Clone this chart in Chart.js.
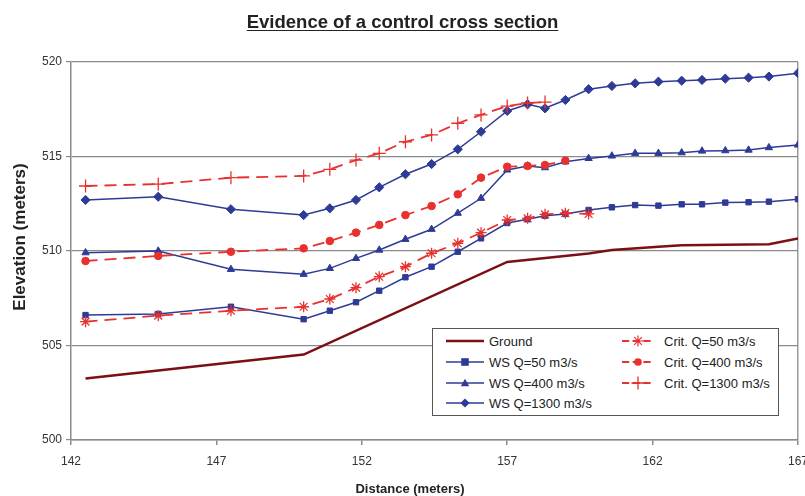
<!DOCTYPE html>
<html>
<head>
<meta charset="utf-8">
<script src="https://cdn.jsdelivr.net/npm/chart.js@4.4.1/dist/chart.umd.min.js"></script>
<style>
  html, body { margin: 0; padding: 0; background: #fff; overflow: hidden; }
  #wrap { position: relative; width: 820px; height: 496px; }
  #titulo {
    position: absolute; left: 0; width: 805px; top: 11px; text-align: center;
    font: bold 18.5px "Liberation Sans", Arial, sans-serif; color: #222;
    text-decoration: underline; text-underline-offset: 2px;
  }
  .eje { position: absolute; text-align: center; font-family: "Liberation Sans", Arial, sans-serif; font-weight: bold; color: #222; white-space: nowrap; }
  #ejeX { left: 310px; width: 200px; top: 480px; height: 18px; line-height: 18px; font-size: 13px; }
  #ejeY { left: -80px; width: 200px; top: 227px; height: 20px; line-height: 20px; font-size: 17px; transform: rotate(-90deg); }
  #leyenda {
    position: absolute; left: 432px; top: 328px; width: 347px; height: 88px;
    border: 1px solid #555; background: #fff; box-sizing: border-box;
    font: 13px "Liberation Sans", Arial, sans-serif; color: #222;
  }
  .item { position: absolute; height: 20px; display: flex; align-items: center; white-space: nowrap; }
  .item svg { margin-right: 5px; }
</style>
</head>
<body>
<div id="wrap">
  <canvas id="grafico"></canvas>
  <div id="titulo">Evidence of a control cross section</div>
  <div class="eje" id="ejeX">Distance (meters)</div>
  <div class="eje" id="ejeY">Elevation (meters)</div>
  <div id="leyenda"></div>
</div>
<script>
// Distancias (m) de las secciones con perfil de agua
const stations = [142.5, 145, 147.5, 150, 150.9, 151.8, 152.6, 153.5, 154.4, 155.3, 156.1, 157,
                  157.7, 158.3, 159, 159.8, 160.6, 161.4, 162.2, 163, 163.7, 164.5, 165.3, 166, 167];

// Terreno
const groundStations = [142.5, 150, 157, 159.8, 160.6, 162.2, 163, 166, 167];
const ground = [503.25, 504.52, 509.42, 509.87, 510.05, 510.22, 510.3, 510.36, 510.66];

// Superficie de agua
const ws50 = [506.61, 506.67, 507.05, 506.39, 506.84, 507.29, 507.90, 508.61, 509.17, 509.96, 510.67, 511.48,
              511.68, 511.87, 511.96, 512.17, 512.31, 512.43, 512.40, 512.47, 512.47, 512.56, 512.58, 512.61, 512.74];
const ws400 = [509.91, 510.00, 509.03, 508.77, 509.08, 509.61, 510.05, 510.62, 511.15, 512.00, 512.79, 514.29,
               514.50, 514.41, 514.72, 514.90, 515.03, 515.17, 515.17, 515.20, 515.29, 515.31, 515.34, 515.47, 515.61];
const ws1300 = [512.70, 512.87, 512.21, 511.90, 512.26, 512.70, 513.37, 514.06, 514.60, 515.38, 516.31, 517.41,
                517.76, 517.55, 517.99, 518.56, 518.73, 518.87, 518.96, 519.01, 519.05, 519.12, 519.17, 519.23, 519.41];

// Tirante crítico
const crit50 = [506.26, 506.58, 506.84, 507.05, 507.46, 508.06, 508.64, 509.17, 509.88, 510.41, 510.97, 511.64,
                511.73, 511.94, 512.00, 511.96];
const crit400 = [509.47, 509.74, 509.96, 510.14, 510.53, 510.97, 511.38, 511.90, 512.38, 513.00, 513.88, 514.46,
                 514.50, 514.55, 514.78];
const crit1300 = [513.44, 513.54, 513.88, 513.97, 514.32, 514.81, 515.17, 515.78, 516.14, 516.76, 517.20, 517.67,
                  517.83, 517.88];

const xTicks = [142, 147, 152, 157, 162, 167];

const AZUL = '#2e3b96';
const ROJO = '#e8312e';
const TIERRA = '#7a1015';

function puntos(xs, ys) {
    return ys.map((y, i) => ({ x: xs[i], y: y }));
}

const series = [
    { label: 'Ground', xs: groundStations, ys: ground, color: TIERRA, width: 2.5, dash: [], point: false, radius: 0 },
    { label: 'WS Q=50 m3/s', xs: stations, ys: ws50, color: AZUL, width: 1.5, dash: [], point: 'rect', radius: 3.8 },
    { label: 'WS Q=400 m3/s', xs: stations, ys: ws400, color: AZUL, width: 1.5, dash: [], point: 'triangle', radius: 4.2 },
    { label: 'WS Q=1300 m3/s', xs: stations, ys: ws1300, color: AZUL, width: 1.5, dash: [], point: 'rectRot', radius: 4.6 },
    { label: 'Crit. Q=50 m3/s', xs: stations, ys: crit50, color: ROJO, width: 1.8, dash: [12, 7], point: 'star', radius: 5.5 },
    { label: 'Crit. Q=400 m3/s', xs: stations, ys: crit400, color: ROJO, width: 1.8, dash: [12, 7], point: 'circle', radius: 3.8 },
    { label: 'Crit. Q=1300 m3/s', xs: stations, ys: crit1300, color: ROJO, width: 1.8, dash: [12, 7], point: 'cross', radius: 6.5 }
];

const datasets = series.map((s, i) => ({
    label: s.label,
    data: puntos(s.xs, s.ys),
    borderColor: s.color,
    backgroundColor: s.color,
    borderWidth: s.width,
    borderDash: s.dash,
    pointStyle: s.point,
    pointRadius: s.radius,
    pointBorderWidth: s.point === 'cross' || s.point === 'star' ? 1.3 : 1,
    pointBackgroundColor: s.color,
    pointBorderColor: s.color,
    tension: 0,
    order: series.length - i
}));

new Chart(document.getElementById('grafico'), {
    type: 'line',
    data: { datasets: datasets },
    options: {
        responsive: true,
        maintainAspectRatio: false,
        animation: false,
        layout: { padding: { top: 62, right: 22, left: 0, bottom: 0 } },
        plugins: {
            legend: { display: false },
            tooltip: { enabled: false }
        },
        scales: {
            x: {
                type: 'linear',
                min: 142,
                max: 167,
                afterFit: scale => { scale.height = 56; },
                afterBuildTicks: scale => { scale.ticks = xTicks.map(v => ({ value: v })); },
                ticks: {
                    color: '#333',
                    padding: 9,
                    maxRotation: 0,
                    font: { family: '"Liberation Sans", Arial', size: 12 }
                },
                grid: {
                    color: ctx => (ctx.tick && ctx.tick.value === 167 ? '#9a9a9a' : 'rgba(0,0,0,0)'),
                    tickColor: '#8a8a8a',
                    tickLength: 5,
                    lineWidth: 1.5
                },
                border: { color: '#8a8a8a', width: 1.5 }
            },
            y: {
                min: 500,
                max: 520,
                afterFit: scale => { scale.width = 71; },
                ticks: {
                    stepSize: 5,
                    color: '#333',
                    padding: 4,
                    font: { family: '"Liberation Sans", Arial', size: 12 }
                },
                grid: {
                    color: '#8a8a8a',
                    tickColor: '#8a8a8a',
                    tickLength: 5,
                    lineWidth: 1.2
                },
                border: { color: '#8a8a8a', width: 1.5 }
            }
        }
    }
});

// Leyenda en HTML con muestras de línea y marcador
function muestraSVG(s, ancho) {
    const c = ancho / 2, m = 10;
    let linea = `<line x1="0" y1="${m}" x2="${ancho}" y2="${m}" stroke="${s.color}" stroke-width="${s.width}"` +
        (s.dash.length ? ` stroke-dasharray="${s.dash[0] * 0.6} ${s.dash[1] * 0.5}"` : '') + '/>';
    let marca = '';
    const r = s.radius;
    if (s.point === 'rect') marca = `<rect x="${c - r}" y="${m - r}" width="${2 * r}" height="${2 * r}" fill="${s.color}"/>`;
    if (s.point === 'triangle') marca = `<polygon points="${c},${m - r} ${c - r},${m + r * 0.75} ${c + r},${m + r * 0.75}" fill="${s.color}"/>`;
    if (s.point === 'rectRot') marca = `<polygon points="${c},${m - r} ${c + r},${m} ${c},${m + r} ${c - r},${m}" fill="${s.color}"/>`;
    if (s.point === 'circle') marca = `<circle cx="${c}" cy="${m}" r="${r}" fill="${s.color}"/>`;
    if (s.point === 'cross') marca = `<path d="M${c} ${m - r}V${m + r}M${c - r} ${m}H${c + r}" stroke="${s.color}" stroke-width="1.3"/>`;
    if (s.point === 'star') marca = `<path d="M${c} ${m - r}V${m + r}M${c - r} ${m}H${c + r}M${c - r * 0.7} ${m - r * 0.7}L${c + r * 0.7} ${m + r * 0.7}M${c - r * 0.7} ${m + r * 0.7}L${c + r * 0.7} ${m - r * 0.7}" stroke="${s.color}" stroke-width="1.2"/>`;
    return `<svg width="${ancho}" height="20">${linea}${marca}</svg>`;
}

const leyenda = document.getElementById('leyenda');
const filas = [2, 23, 44, 64];
const col1 = series.slice(0, 4);
const col2 = series.slice(4);
col1.forEach((s, i) => {
    leyenda.insertAdjacentHTML('beforeend',
        `<div class="item" style="left:13px;top:${filas[i]}px">${muestraSVG(s, 38)}<span>${s.label}</span></div>`);
});
col2.forEach((s, i) => {
    leyenda.insertAdjacentHTML('beforeend',
        `<div class="item" style="left:189px;top:${filas[i]}px">${muestraSVG(s, 32)}<span style="margin-left:5px">${s.label}</span></div>`);
});
</script>
</body>
</html>
